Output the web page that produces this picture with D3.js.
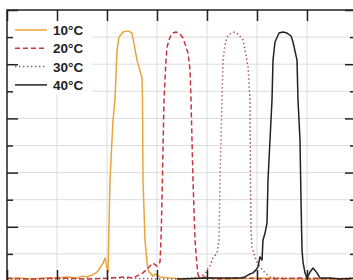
<!DOCTYPE html>
<html>
<head>
<meta charset="utf-8">
<script src="https://cdn.jsdelivr.net/npm/d3@7"></script>
<style>
  body { margin: 0; background: #fff; }
  svg { display: block; }
</style>
</head>
<body>
<div id="container"></div>
<script>
// series data: [x, transmission %]
var temps = ["10°C", "20°C", "30°C", "40°C"];

var t10 = [[0,0.7],[1.3,1.1],[2.3,0.7],[3.8,1.1],[5.0,1.1],[6.0,1.5],[7.0,1.1],[7.5,1.8],[8.0,1.5],[8.5,2.2],
    [9.0,3.3],[9.3,4.8],[9.6,6.6],[9.8,8.5],[9.9,6.6],[10.1,3.3],[10.3,37.3],[10.6,59.4],[10.8,66.8],[11.0,85.2],
    [11.2,90.0],[11.6,91.9],[12.1,92.3],[12.5,91.5],[13.0,81.5],[13.5,74.9],[13.55,66.8],[13.6,37.3],[13.8,15.1],
    [14.0,7.0],[14.1,4.1],[14.3,3.0],[14.6,1.8],[14.8,2.6],[15.3,1.5],[16.3,1.1],[17.8,0.7],[19.3,1.1],[22.3,0.7],
    [25.3,1.1],[29.3,0.7],[35,0.7]];

var t20 = [[0,1.1],[2.3,0.7],[5.3,1.1],[8.3,0.7],[10.3,1.1],[11.8,1.5],[12.6,1.1],[13.6,3.0],[14.1,4.8],[14.6,6.6],
    [15.0,5.5],[15.3,7.0],[15.4,15.1],[15.5,29.9],[15.6,48.3],[15.7,66.8],[15.9,81.5],[16.0,86.3],[16.3,90.0],
    [16.6,91.5],[16.9,91.9],[17.3,91.1],[17.6,89.7],[18.1,84.1],[18.3,77.9],[18.4,66.8],[18.5,52.0],[18.6,37.3],
    [18.8,15.1],[19.0,5.9],[19.1,2.2],[19.3,1.1],[19.8,1.5],[20.8,0.7],[23.3,1.1],[26.3,0.7],[29.3,1.1],[35,0.7]];

var t30 = [[0,0.7],[5.3,0.7],[11.3,1.1],[16.3,0.7],[18.8,1.1],[19.3,1.5],[19.8,2.6],[20.0,4.1],[20.3,5.5],[20.6,8.5],
    [21.0,10.3],[21.2,15.1],[21.3,37.3],[21.4,52.0],[21.5,66.8],[21.6,81.5],[21.8,87.1],[22.0,90.0],[22.4,91.5],
    [22.8,91.9],[23.2,90.8],[23.6,88.9],[23.9,83.4],[24.1,79.0],[24.3,66.8],[24.35,37.3],[24.4,18.8],[24.5,12.5],
    [24.9,7.7],[25.3,5.2],[25.8,3.0],[26.3,1.5],[27.3,1.1],[30.3,0.7],[35,1.1]];

var t40 = [[17,0.7],[20.3,1.1],[23.3,1.1],[23.8,1.5],[24.3,2.6],[24.6,3.0],[24.9,4.1],[25.1,5.2],[25.3,8.9],[25.5,7.7],
    [25.6,15.1],[25.8,17.6],[26.0,21.4],[26.1,37.3],[26.3,52.0],[26.5,66.8],[26.6,81.5],[26.8,88.2],[27.2,91.5],
    [27.6,91.9],[28.0,91.5],[28.4,90.4],[28.6,88.2],[29.0,81.5],[29.1,66.8],[29.3,52.0],[29.4,29.9],[29.5,11.4],
    [29.6,7.0],[29.8,3.0],[30.0,1.1],[30.3,3.3],[30.6,4.8],[31.0,3.0],[31.3,1.1],[32.3,1.1],[33.3,0.7],[35,1.1]];

var seriesData = [t10, t20, t30, t40];
var xTicks = [0, 5, 10, 15, 20, 25, 30, 35];
var yMajor = [0, 20, 40, 60, 80, 100];
var yMinor = [10, 30, 50, 70, 90];
var yGrid = [10, 20, 30, 40, 50, 60, 70, 80, 90];

var width = 353, height = 280;
// plot box (window.top is reserved, so no bare "top")
var plotL = 7, plotR = 357, plotT = 10, plotB = 281;

var colors = ["#e8a53c", "#c8323f", "#a84a5c", "#222222"];
var dashes = [null, "5,3", "1.4,2.6", null];

var svg = d3.select("div#container")
    .append("svg")
    .attr("width", width)
    .attr("height", height);

var x = d3.scaleLinear().domain([0, 35]).range([plotL, plotR]);
var y = d3.scaleLinear().domain([0, 100]).range([plotB, plotT]);

//grid
svg.append("g").selectAll("line")
    .data(yGrid)
    .enter().append("line")
    .attr("x1", plotL).attr("x2", plotR)
    .attr("y1", d => y(d)).attr("y2", d => y(d))
    .style("stroke", "#dcdcdc").style("stroke-width", 1);

svg.append("g").selectAll("line")
    .data(xTicks.slice(1, -1))
    .enter().append("line")
    .attr("x1", d => x(d)).attr("x2", d => x(d))
    .attr("y1", plotT).attr("y2", plotB)
    .style("stroke", "#dcdcdc").style("stroke-width", 1);

//legend background covers the grid
svg.append("rect")
    .attr("x", plotL + 1).attr("y", plotT + 1)
    .attr("width", 84).attr("height", 83)
    .style("fill", "#fff");

//curves
var line = d3.line()
    .x(d => x(d[0]))
    .y(d => y(d[1]));

svg.append("g").selectAll("path")
    .data(seriesData)
    .enter().append("path")
    .attr("d", line)
    .style("fill", "none")
    .style("stroke", (d, i) => colors[i])
    .style("stroke-width", 1.5)
    .style("stroke-linejoin", "round")
    .style("stroke-dasharray", (d, i) => dashes[i]);

//axes: ticks inside on all four sides
svg.append("g")
    .attr("transform", "translate(" + plotL + ",0)")
    .call(d3.axisRight(y).tickValues(yMajor).tickSize(11).tickFormat(""))
    .call(g => g.select(".domain").remove());
svg.append("g")
    .attr("transform", "translate(" + plotL + ",0)")
    .call(d3.axisRight(y).tickValues(yMinor).tickSize(6).tickFormat(""))
    .call(g => g.select(".domain").remove());
svg.append("g")
    .attr("transform", "translate(" + plotR + ",0)")
    .call(d3.axisLeft(y).tickValues(yMajor).tickSize(12).tickFormat(""))
    .call(g => g.select(".domain").remove());
svg.append("g")
    .attr("transform", "translate(" + plotR + ",0)")
    .call(d3.axisLeft(y).tickValues(yMinor).tickSize(7).tickFormat(""))
    .call(g => g.select(".domain").remove());
svg.append("g")
    .attr("transform", "translate(0," + plotT + ")")
    .call(d3.axisBottom(x).tickValues(xTicks).tickSize(11).tickFormat(""))
    .call(g => g.select(".domain").remove());
svg.append("g")
    .attr("transform", "translate(0," + plotB + ")")
    .call(d3.axisTop(x).tickValues(xTicks).tickSize(11).tickFormat(""))
    .call(g => g.select(".domain").remove());

svg.selectAll(".tick line").style("stroke", "#222").style("stroke-width", 1.5);

//frame
svg.append("rect")
    .attr("x", plotL).attr("y", plotT)
    .attr("width", plotR - plotL).attr("height", plotB - plotT)
    .style("fill", "none")
    .style("stroke", "#222")
    .style("stroke-width", 1.5);

//legend
var legend = svg.append("g").selectAll("g")
    .data(temps)
    .enter().append("g")
    .attr("transform", (d, i) => "translate(15," + (30 + i * 18.3) + ")");

legend.append("line")
    .attr("x1", 0).attr("x2", 32)
    .style("stroke", (d, i) => colors[i])
    .style("stroke-width", 1.5)
    .style("stroke-dasharray", (d, i) => dashes[i]);

legend.append("text")
    .attr("x", 38).attr("y", 5)
    .text(d => d)
    .style("font-family", "Liberation Sans, Arial, sans-serif")
    .style("font-weight", "bold")
    .style("font-size", "13.5px")
    .style("fill", "#222");
</script>
</body>
</html>
